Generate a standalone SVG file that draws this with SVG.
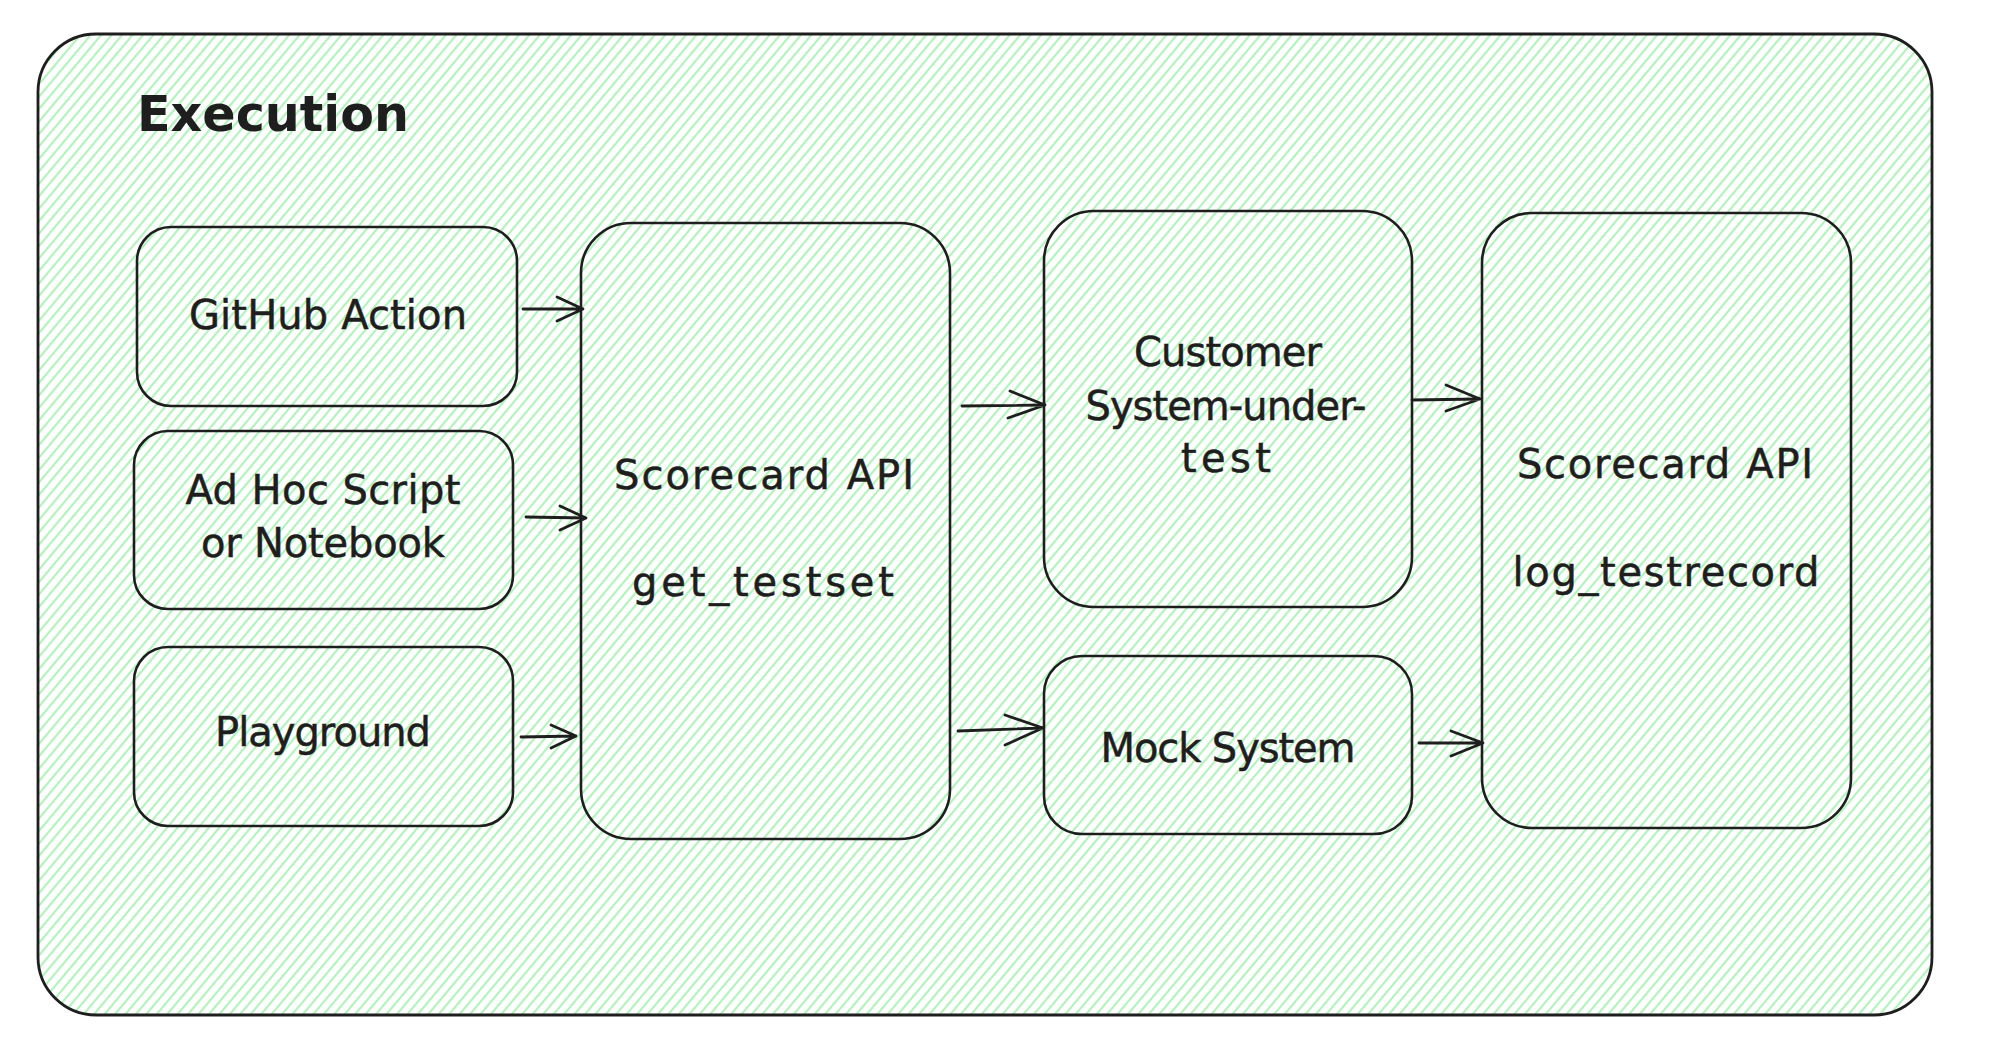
<svg xmlns="http://www.w3.org/2000/svg" width="2000" height="1049" viewBox="0 0 2000 1049">
  <defs>
    <pattern id="hatch" patternUnits="userSpaceOnUse" width="8" height="8" patternTransform="rotate(40)">
      <line x1="4" y1="-1" x2="4" y2="9" stroke="#b2f2bb" stroke-width="2.2"/>
    </pattern>
    <style>
      .box { fill: none; stroke: #1e1e1e; stroke-width: 2.6; }
      .frame { fill: url(#hatch); stroke: #1e1e1e; stroke-width: 2.8; }
      .lbl { font-family: "DejaVu Sans", "Liberation Sans", sans-serif; font-size: 40px; fill: #1e1e1e; stroke: #1e1e1e; stroke-width: 0.5; text-anchor: middle; }
      .title { font-family: "DejaVu Sans", "Liberation Sans", sans-serif; font-size: 50px; font-weight: bold; fill: #1e1e1e; }
      .arr { fill: none; stroke: #1e1e1e; stroke-width: 2.8; stroke-linecap: round; stroke-linejoin: round; }
    </style>
  </defs>
  <rect width="2000" height="1049" fill="#ffffff"/>

  <g id="execution-frame">
    <rect class="frame" x="38" y="34" width="1894" height="981" rx="58" ry="58"/>
    <text class="title" x="137" y="131" textLength="272" lengthAdjust="spacingAndGlyphs">Execution</text>
  </g>

  <g id="github-action">
    <rect class="box" x="137" y="227" width="380" height="179" rx="34" ry="34"/>
    <text class="lbl" x="328" y="329" textLength="278">GitHub Action</text>
  </g>

  <g id="adhoc-script">
    <rect class="box" x="134" y="431" width="379" height="178" rx="34" ry="34"/>
    <text class="lbl" x="323" y="504" textLength="275">Ad Hoc Script</text>
    <text class="lbl" x="323" y="557" textLength="244">or Notebook</text>
  </g>

  <g id="playground">
    <rect class="box" x="134" y="647" width="379" height="179" rx="34" ry="34"/>
    <text class="lbl" x="323" y="746" textLength="216">Playground</text>
  </g>

  <g id="get-testset">
    <rect class="box" x="581" y="223" width="369" height="616" rx="50" ry="50"/>
    <text class="lbl" x="764" y="489" textLength="300">Scorecard API</text>
    <text class="lbl" x="763" y="596" textLength="262">get_testset</text>
  </g>

  <g id="customer-sut">
    <rect class="box" x="1044" y="211" width="368" height="396" rx="50" ry="50"/>
    <text class="lbl" x="1228" y="366" textLength="188">Customer</text>
    <text class="lbl" x="1226" y="420" textLength="281">System-under-</text>
    <text class="lbl" x="1226" y="472" textLength="90">test</text>
  </g>

  <g id="mock-system">
    <rect class="box" x="1044" y="656" width="368" height="178" rx="38" ry="38"/>
    <text class="lbl" x="1228" y="762" textLength="255">Mock System</text>
  </g>

  <g id="log-testrecord">
    <rect class="box" x="1482" y="213" width="369" height="615" rx="50" ry="50"/>
    <text class="lbl" x="1665" y="478" textLength="296">Scorecard API</text>
    <text class="lbl" x="1666" y="586" textLength="307">log_testrecord</text>
  </g>

  <g id="connectors">
    <path class="arr" d="M523 309 L583 309 M557 297 L583 309 L557 321"/>
    <path class="arr" d="M526 517 L586 518 M560 506 L586 518 L560 530"/>
    <path class="arr" d="M521 737 L576 736 M551 725 L576 736 L551 748"/>
    <path class="arr" d="M962 406 L1045 405 M1010 391 L1045 405 L1008 418"/>
    <path class="arr" d="M958 731 L1043 728 M1005 715 L1043 728 L1005 745"/>
    <path class="arr" d="M1412 400 L1480 399 M1446 385 L1480 399 L1446 411"/>
    <path class="arr" d="M1419 743 L1483 743 M1451 731 L1483 743 L1451 756"/>
  </g>
</svg>
